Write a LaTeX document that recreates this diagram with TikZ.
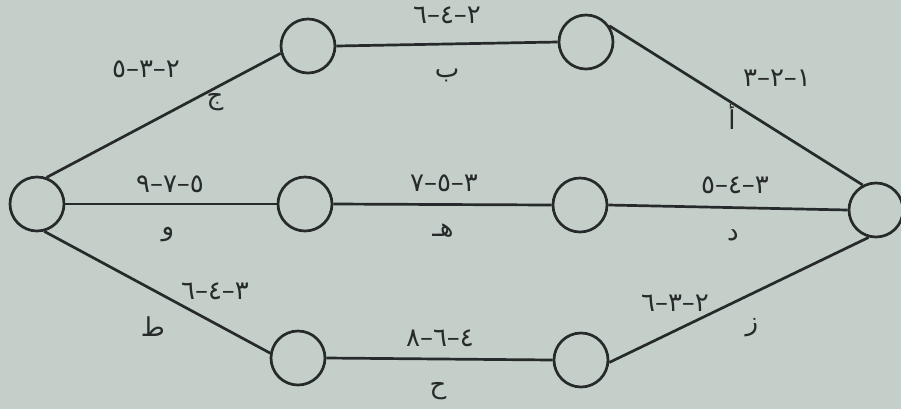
\documentclass[tikz,border=0pt]{standalone}
\usepackage{fontspec}
\newfontfamily\arabicfont[Script=Arabic]{DejaVu Sans}
\TeXXeTstate=1
\definecolor{paper}{RGB}{197,207,201}
\definecolor{ink}{RGB}{38,42,42}
\tikzset{
  event/.style={circle,draw=ink,line width=1.35pt,minimum size=27pt,inner sep=0pt},
  act/.style={draw=ink,line width=1.35pt},
  lbl/.style={text=ink,font=\arabicfont\fontsize{13}{15}\selectfont,inner sep=0pt}
}
\begin{document}
\begin{tikzpicture}[x=0.5pt,y=-0.5pt]
  \fill[paper] (0,0) rectangle (901,409);
  \useasboundingbox (0,0) rectangle (901,409);
  % events
  \node[event] (s) at (37,204) {};
  \node[event] (t1) at (308,46) {};
  \node[event] (t2) at (586,42) {};
  \node[event] (m1) at (305,204) {};
  \node[event] (m2) at (580,205) {};
  \node[event] (b1) at (298,358) {};
  \node[event] (b2) at (581,360) {};
  \node[event] (e) at (876,210) {};
  % activities
  \draw[act] (s.70) -- (t1.195);
  \draw[act] (t1.east) -- (t2.west);
  \draw[act] (t2.35) -- (e.118);
  \draw[act] (s.east) -- (m1.west);
  \draw[act] (m1.east) -- (m2.west);
  \draw[act] (m2.east) -- (e.west);
  \draw[act] (s.-75) -- (b1.170);
  \draw[act] (b1.east) -- (b2.west);
  \draw[act] (b2.-5) -- (e.-105);
  % durations
  \node[lbl] (dj) at (146,69) {\beginR ٢–٣–٥\endR};
  \node[lbl] (db) at (447,15) {\beginR ٢–٤–٦\endR};
  \node[lbl] (da) at (777,78) {\beginR ١–٢–٣\endR};
  \node[lbl] (dw) at (170,184) {\beginR ٥–٧–٩\endR};
  \node[lbl] (dh) at (444,183) {\beginR ٣–٥–٧\endR};
  \node[lbl] (dd) at (735,185) {\beginR ٣–٤–٥\endR};
  \node[lbl] (dt) at (215,291) {\beginR ٣–٤–٦\endR};
  \node[lbl] (dk) at (440,338) {\beginR ٤–٦–٨\endR};
  \node[lbl] (dz) at (675,303) {\beginR ٢–٣–٦\endR};
  % activity names
  \node[lbl] (aj) at (215,102) {ج};
  \node[lbl] (ab) at (447,75) {ب};
  \node[lbl] (aa) at (732,117) {أ};
  \node[lbl] (aw) at (168,235) {و};
  \node[lbl] (ah) at (443,231) {هـ};
  \node[lbl] (ad) at (733,235) {د};
  \node[lbl] (at) at (153,327) {ط};
  \node[lbl] (ak) at (438,391) {ح};
  \node[lbl] (az) at (752,328) {ز};
\end{tikzpicture}
\end{document}
